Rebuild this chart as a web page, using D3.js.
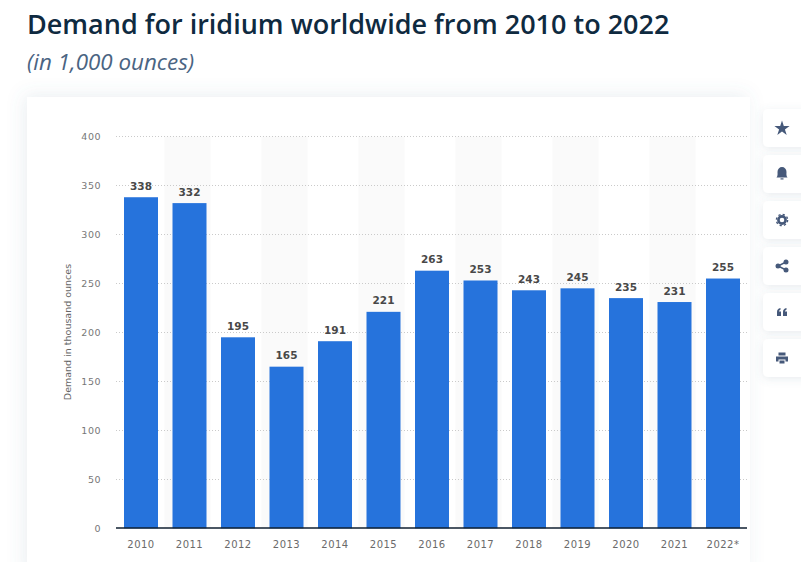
<!DOCTYPE html>
<html><head><meta charset="utf-8">
<script src="https://cdn.jsdelivr.net/npm/d3@7"></script>
<style>html,body{margin:0;padding:0;background:#fff;overflow:hidden}svg{display:block}</style>
</head><body><svg id="c" width="801" height="562"></svg>
<script>
const years=["2010","2011","2012","2013","2014","2015","2016","2017","2018","2019","2020","2021","2022*"];
const demand=[338,332,195,165,191,221,263,253,243,245,235,231,255];
const yTicks=[0,50,100,150,200,250,300,350,400];
const titleText="Demand for iridium worldwide from 2010 to 2022";
const subtitleText="(in 1,000 ounces)";
const yLabel="Demand in thousand ounces";

const svg=d3.select("#c");
const defs=svg.append("defs");
const f=defs.append("filter").attr("id","sh").attr("x","-10%").attr("y","-10%").attr("width","120%").attr("height","120%");
f.append("feDropShadow").attr("dx",-3).attr("dy",-2).attr("stdDeviation",9).attr("flood-color","#5a7890").attr("flood-opacity",0.12);
const f2=defs.append("filter").attr("id","sb").attr("x","-30%").attr("y","-30%").attr("width","160%").attr("height","160%");
f2.append("feDropShadow").attr("dx",0).attr("dy",2).attr("stdDeviation",4).attr("flood-color","#5a7890").attr("flood-opacity",0.14);

svg.append("text").attr("x",27).attr("y",33.5).attr("font-family","'Open Sans'").attr("font-weight",600)
  .attr("font-size",27).attr("fill","#0f2a40").text(titleText);
svg.append("text").attr("x",27).attr("y",70).attr("font-family","'Open Sans'").attr("font-style","italic")
  .attr("font-size",22.4).attr("fill","#4a6482").text(subtitleText);

svg.append("rect").attr("x",27).attr("y",97).attr("width",723).attr("height",480).attr("fill","#fff").attr("filter","url(#sh)");

const x=d3.scaleBand().domain(years).range([124,740]).paddingInner(0.299).paddingOuter(0);
const y=d3.scaleLinear().domain([0,400]).range([528.3,136.5]);

// zebra
svg.append("g").selectAll("rect").data(years.filter((d,i)=>i%2===1)).join("rect")
  .attr("x",d=>x(d)+x.bandwidth()/2-25).attr("width",46)
  .attr("y",y(400)).attr("height",y(0)-y(400)).attr("fill","#fafafa");

// grid
svg.append("g").selectAll("line").data(yTicks.filter(d=>d>0)).join("line")
  .attr("x1",116).attr("x2",747).attr("y1",d=>Math.floor(y(d))+.5).attr("y2",d=>Math.floor(y(d))+.5)
  .attr("stroke","#c4c4c4").attr("stroke-width",0.9).attr("stroke-dasharray","1 2");

// bars
svg.append("g").selectAll("rect").data(demand).join("rect")
  .attr("x",(d,i)=>x(years[i])).attr("width",x.bandwidth())
  .attr("y",d=>y(d)).attr("height",d=>y(0)-y(d)).attr("fill","#2673dc");

// labels
svg.append("g").selectAll("text").data(demand).join("text")
  .attr("x",(d,i)=>x(years[i])+x.bandwidth()/2).attr("y",d=>y(d)-7.5)
  .attr("text-anchor","middle").attr("font-family","'DejaVu Sans'").attr("font-weight",700)
  .attr("font-size",10.5).attr("fill","#484848").text(d=>d);

// axes
const ax=svg.append("g").attr("transform","translate(0,528)")
  .call(d3.axisBottom(x).tickSize(0).tickPadding(13));
ax.select(".domain").attr("stroke","#0f1f30").attr("stroke-width",1.3).attr("d","M116,0H747");
ax.selectAll("text").attr("font-family","'DejaVu Sans'").attr("font-size",10).attr("fill","#6a6a6a").attr("letter-spacing",0.5);
const ay=svg.append("g").attr("transform","translate(101,0)")
  .call(d3.axisLeft(y).tickValues(yTicks).tickSize(0).tickPadding(0));
ay.select(".domain").remove();
ay.selectAll("text").attr("font-family","'DejaVu Sans'").attr("font-size",9.5).attr("fill","#777").attr("letter-spacing",0.5);

svg.append("text").attr("transform","translate(71,332) rotate(-90)").attr("text-anchor","middle")
  .attr("font-family","'DejaVu Sans'").attr("font-size",9.5).attr("fill","#666").text(yLabel);

// side buttons
const iconColor="#46597a";
const icons=[
 g=>g.append("path").attr("d",d3.symbol(d3.symbolStar,72)()).attr("transform","translate(0,0.5)").attr("fill",iconColor),
 g=>{g.append("path").attr("d","M-5.5,3.5 C-4,2 -4.5,-1 -4.5,-2 A4.5,5 0 0 1 4.5,-2 C4.5,-1 4,2 5.5,3.5 Z").attr("fill",iconColor);
     g.append("rect").attr("x",-1.5).attr("y",4.3).attr("width",3).attr("height",1.2).attr("fill",iconColor);},
 g=>{g.append("circle").attr("r",3.6).attr("fill","none").attr("stroke",iconColor).attr("stroke-width",2.6);
     g.append("circle").attr("r",5.6).attr("fill","none").attr("stroke",iconColor).attr("stroke-width",1.4).attr("stroke-dasharray","2.2 2.2");},
 g=>{g.append("path").attr("d","M4,-4 L-4,0 L4,4").attr("fill","none").attr("stroke",iconColor).attr("stroke-width",1.4);
     [[4,-4],[-4,0],[4,4]].forEach(p=>g.append("circle").attr("cx",p[0]).attr("cy",p[1]).attr("r",2.5).attr("fill",iconColor));},
 g=>{g.append("path").attr("d","M-5,4 V0 C-5,-2 -4,-3.5 -1.5,-4 V-2.2 C-2.5,-2 -3,-1.3 -3,-0.5 H-1 V4 Z M1,4 V0 C1,-2 2,-3.5 4.5,-4 V-2.2 C3.5,-2 3,-1.3 3,-0.5 H5 V4 Z").attr("fill",iconColor);},
 g=>{g.append("path").attr("d","M-3.5,-2.5 V-5.5 H3.5 V-2.5 Z M-6,-1.5 H6 V3.5 H3.5 V1.5 H-3.5 V3.5 H-6 Z M-2.5,2.5 H2.5 V5.5 H-2.5 Z").attr("fill",iconColor);}
];
const btnTops=[109,155,201,247,293,339];
btnTops.forEach((t,i)=>{
  svg.append("rect").attr("x",763).attr("y",t).attr("width",50).attr("height",38).attr("rx",5).attr("fill","#fff").attr("filter","url(#sb)");
  icons[i](svg.append("g").attr("transform",`translate(782,${t+19})`));
});
</script></body></html>
